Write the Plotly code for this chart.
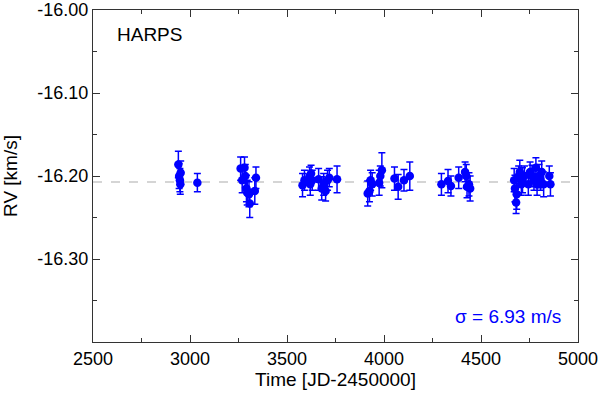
import plotly.graph_objects as go

time = [2940, 2944, 2948, 2950, 2952, 3038,
        3261, 3269, 3281, 3285, 3291, 3295, 3304, 3308, 3334, 3340,
        3580, 3590, 3616, 3620, 3624, 3630, 3663, 3679, 3689, 3699, 3709, 3718, 3758,
        3916, 3925, 3931, 3939, 3975, 3981, 3989, 4054, 4073, 4103, 4133,
        4296, 4330, 4345, 4385, 4418, 4424, 4428, 4438, 4444,
        4671, 4675, 4681, 4684, 4694, 4700, 4708, 4714, 4724, 4744, 4753,
        4763, 4773, 4783, 4789, 4799, 4807, 4813, 4823, 4852, 4858]
rv = [-16.186, -16.200, -16.205, -16.210, -16.196, -16.208,
      -16.191, -16.205, -16.190, -16.200, -16.215, -16.220, -16.222, -16.233, -16.218, -16.202,
      -16.211, -16.205, -16.200, -16.210, -16.197, -16.205, -16.204, -16.215, -16.210, -16.218, -16.205, -16.202, -16.204,
      -16.221, -16.218, -16.205, -16.210, -16.208, -16.200, -16.193, -16.203, -16.213, -16.205, -16.200,
      -16.210, -16.206, -16.212, -16.202, -16.195, -16.200, -16.213, -16.210, -16.215,
      -16.205, -16.215, -16.232, -16.222, -16.200, -16.195, -16.210, -16.205, -16.200, -16.210, -16.195,
      -16.200, -16.205, -16.190, -16.210, -16.200, -16.205, -16.195, -16.210, -16.200, -16.210]
rv_err = [0.016, 0.015, 0.014, 0.012, 0.014, 0.011,
          0.014, 0.015, 0.013, 0.014, 0.016, 0.015, 0.015, 0.017, 0.016, 0.013,
          0.014, 0.012, 0.011, 0.013, 0.010, 0.012, 0.013, 0.014, 0.013, 0.012, 0.012, 0.011, 0.016,
          0.015, 0.013, 0.012, 0.014, 0.015, 0.012, 0.021, 0.014, 0.015, 0.013, 0.017,
          0.013, 0.014, 0.012, 0.013, 0.012, 0.014, 0.013, 0.014, 0.015,
          0.014, 0.016, 0.013, 0.018, 0.012, 0.014, 0.013, 0.015, 0.012, 0.013, 0.012,
          0.013, 0.012, 0.012, 0.013, 0.014, 0.012, 0.013, 0.015, 0.012, 0.014]
mean_rv = -16.2072
x_ticks = [2500, 3000, 3500, 4000, 4500, 5000]
y_ticks = [-16.00, -16.10, -16.20, -16.30]
y_tick_labels = ["-16.00", "-16.10", "-16.20", "-16.30"]
sigma_text = "σ = 6.93 m/s"
label_text = "HARPS"

FONT = "Liberation Sans, Arial, sans-serif"

fig = go.Figure()
fig.add_trace(go.Scatter(
    x=[x_ticks[0], x_ticks[-1]], y=[mean_rv, mean_rv], mode="lines",
    line=dict(color="#c8c8c8", width=1.5, dash="dash"), hoverinfo="skip", showlegend=False))
fig.add_trace(go.Scatter(
    x=time, y=rv, mode="markers",
    marker=dict(color="#0000ff", size=8.5, line=dict(width=0)),
    error_y=dict(type="data", array=rv_err, color="#0000ff", thickness=1.5, width=3.5),
    showlegend=False))

axis_common = dict(showline=True, linecolor="#333333", linewidth=1, mirror="allticks",
                   ticks="inside", ticklen=7, tickcolor="#333333", showgrid=False, zeroline=False,
                   automargin=False, ticklabeloverflow="allow",
                   tickfont=dict(family=FONT, size=18, color="black"))
fig.update_xaxes(range=[2500, 5000], tickmode="array", tickvals=x_ticks,
                 ticktext=[str(v) for v in x_ticks],
                 minor=dict(ticks="inside", ticklen=4, tick0=2500, dtick=250, tickcolor="#333333"),
                 title=dict(text="Time [JD-2450000]", standoff=0,
                            font=dict(family=FONT, size=19, color="black")),
                 **axis_common)
fig.update_yaxes(range=[-16.3999, -16.0], tickmode="array", tickvals=y_ticks,
                 ticktext=y_tick_labels,
                 minor=dict(ticks="inside", ticklen=4, tick0=-16.0, dtick=0.05, tickcolor="#333333"),
                 title=dict(text="RV [km/s]", standoff=14,
                            font=dict(family=FONT, size=19, color="black")),
                 **axis_common)
fig.add_annotation(x=0.05, y=0.965, xref="paper", yref="paper", text=label_text, showarrow=False,
                   xanchor="left", yanchor="top", xshift=-2,
                   font=dict(family=FONT, size=19, color="black"))
fig.add_annotation(x=0.97, y=0.04, xref="paper", yref="paper", text=sigma_text, showarrow=False,
                   xanchor="right", yanchor="bottom",
                   font=dict(family=FONT, size=19, color="#0000ff"))
fig.update_layout(width=600, height=394, margin=dict(l=93, r=22, t=10, b=52),
                  paper_bgcolor="white", plot_bgcolor="white")
fig.write_html("out.html", config={"displayModeBar": False},
               post_script="document.body.style.margin='0';document.body.style.overflow='hidden';")
